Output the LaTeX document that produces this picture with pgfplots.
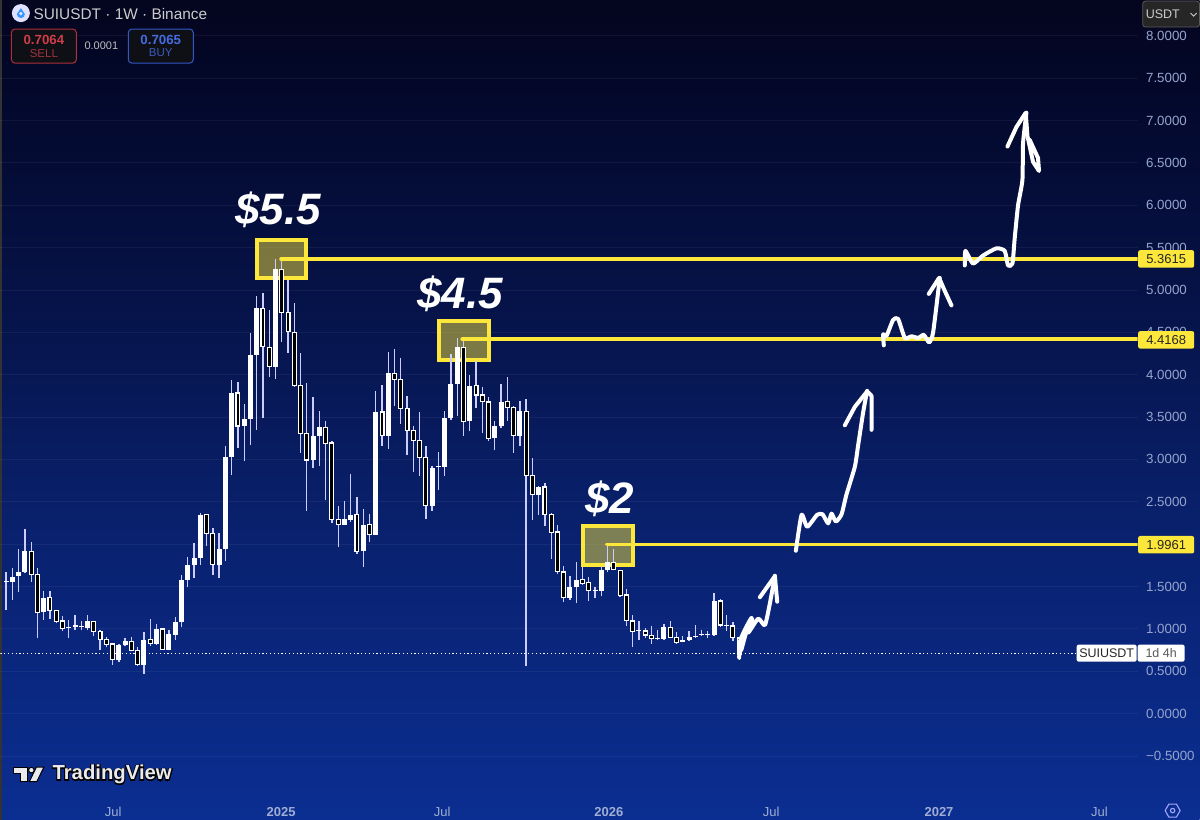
\documentclass[border=0pt]{standalone}
\usepackage{fontspec}
\setmainfont{Liberation Sans}
\newfontface\tvout{Liberation Sans Bold}[FakeBold=10]
\usepackage{pgfplots}
\usepackage{pgfplotstable}
\pgfplotsset{compat=1.18}
\definecolor{c0}{RGB}{11,46,146}
\definecolor{c1}{RGB}{9,33,110}
\definecolor{c2}{RGB}{6,18,70}
\definecolor{c3}{RGB}{3,8,42}
\definecolor{c4}{RGB}{4,5,30}
\definecolor{lvl}{RGB}{253,231,58}
\definecolor{axt}{RGB}{150,165,205}
\definecolor{sellc}{RGB}{205,62,72}
\definecolor{sellb}{RGB}{170,48,58}
\definecolor{buyc}{RGB}{68,108,225}
\definecolor{buyb}{RGB}{50,88,200}
\definecolor{boxf}{RGB}{15,15,22}
\pgfdeclareverticalshading{chartbg}{100bp}{color(0bp)=(c0); color(25bp)=(c0); color(42.5bp)=(c1); color(57.5bp)=(c2); color(70bp)=(c3); color(75bp)=(c4); color(100bp)=(c4)}
\pgfplotstableread{
i top bot hi lo
0 1.565 1.557 1.667 1.218
1 1.612 1.553 1.718 1.344
2 1.675 1.620 1.946 1.431
3 1.914 1.671 2.181 1.659
6 1.368 1.199 1.442 1.108
10 1.026 1.006 1.108 0.892
11 1.041 1.022 1.167 0.990
12 1.037 1.018 1.089 0.983
13 1.093 1.014 1.167 0.983
18 0.810 0.629 0.821 0.605
19 0.857 0.806 0.892 0.794
22 0.873 0.578 0.959 0.464
24 0.998 0.825 1.057 0.814
26 0.943 0.755 0.990 0.747
27 1.081 0.931 1.140 0.873
28 1.580 1.077 1.639 1.018
29 1.757 1.580 1.843 1.493
30 1.839 1.757 2.012 1.600
31 2.346 1.839 2.370 1.753
34 1.942 1.749 2.130 1.600
35 3.034 1.946 3.153 1.796
36 3.786 3.034 3.939 2.819
38 3.475 3.396 3.656 2.976
39 4.234 3.475 4.489 3.172
40 4.784 4.234 4.929 3.349
43 5.244 4.088 5.362 3.947
49 3.271 2.995 3.742 2.897
50 3.377 3.271 3.573 2.925
54 2.292 2.229 2.504 2.229
55 2.347 2.288 2.830 2.256
57 2.229 1.914 2.414 1.726
59 3.562 2.111 3.813 2.111
61 4.014 3.279 4.273 3.121
68 2.897 2.449 2.925 2.394
69 2.921 2.909 3.090 2.642
70 3.491 2.909 3.573 2.799
71 3.892 3.487 4.242 3.467
72 4.332 3.892 4.430 3.507
74 3.872 3.448 3.998 3.330
78 3.396 3.247 3.448 3.113
79 3.683 3.389 3.888 3.369
82 3.566 3.279 3.691 3.153
85 2.673 2.579 2.689 2.339
90 1.494 1.364 1.620 1.337
91 1.580 1.494 1.789 1.305
94 1.459 1.451 1.494 1.360
95 1.690 1.451 1.738 1.384
96 1.789 1.690 1.996 1.667
101 0.991 0.983 1.097 0.873
104 0.892 0.880 0.991 0.873
105 1.022 0.880 1.053 0.873
108 0.865 0.845 0.912 0.841
109 0.900 0.869 0.971 0.861
110 0.920 0.900 1.042 0.896
111 0.943 0.928 0.983 0.920
112 0.943 0.928 0.971 0.888
113 1.332 0.924 1.423 0.920
115 1.050 1.042 1.160 0.979
}\upw
\pgfplotstableread{
i top bot hi lo
4 1.910 1.643 2.024 1.552
5 1.639 1.199 1.718 0.892
7 1.368 1.218 1.442 1.120
8 1.214 1.089 1.226 1.069
9 1.093 1.002 1.155 0.979
14 1.089 0.971 1.093 0.912
15 0.971 0.880 0.983 0.755
16 0.876 0.821 0.904 0.782
17 0.821 0.637 0.833 0.578
20 0.853 0.747 0.900 0.735
21 0.747 0.578 0.782 0.566
23 0.869 0.825 1.116 0.802
25 0.998 0.762 1.014 0.755
32 2.346 2.130 2.358 1.973
33 2.122 1.757 2.189 1.639
37 3.782 3.396 3.908 3.133
41 4.784 4.332 4.961 3.487
42 4.324 4.096 4.764 3.978
44 5.244 4.737 5.354 4.391
45 4.733 4.509 5.118 4.253
46 4.501 3.872 4.843 3.860
47 3.868 3.310 4.253 3.074
48 3.302 2.995 3.900 2.394
51 3.377 3.192 3.448 2.516
52 3.192 2.288 3.212 2.249
53 2.288 2.233 2.453 1.966
56 2.347 1.914 2.555 1.887
58 2.229 2.115 2.355 2.021
60 3.558 3.279 3.876 3.153
62 4.014 3.947 4.300 3.632
63 3.939 3.605 4.202 3.420
64 3.601 3.345 3.750 3.054
65 3.337 3.227 3.389 2.846
66 3.223 3.023 3.558 2.807
67 3.023 2.453 3.160 2.296
73 4.324 3.448 4.417 3.271
75 3.872 3.762 4.167 3.605
76 3.758 3.680 3.852 3.310
77 3.676 3.251 3.735 3.212
80 3.680 3.609 3.974 3.459
81 3.609 3.279 3.632 3.074
83 3.562 2.815 3.711 0.566
84 2.811 2.583 3.015 2.280
86 2.673 2.355 2.720 2.209
87 2.351 2.142 2.366 1.824
88 2.142 1.679 2.229 1.651
89 1.671 1.372 1.738 1.313
92 1.580 1.541 1.730 1.517
93 1.549 1.451 1.612 1.325
97 1.785 1.698 1.942 1.690
98 1.687 1.399 1.698 1.376
99 1.399 1.097 1.474 1.030
100 1.093 0.971 1.167 0.786
102 0.975 0.928 1.010 0.896
103 0.924 0.885 1.030 0.825
106 1.018 0.904 1.089 0.896
107 0.896 0.845 0.963 0.825
114 1.329 1.046 1.352 1.018
116 1.034 0.900 1.077 0.853
117 0.892 0.704 0.900 0.637
}\dnw
\tikzset{levtag/.style={fill=lvl,rounded corners=2pt,minimum width=56pt,minimum height=17.5pt,inner sep=0pt,text=black!85,font=\fontsize{13}{15}\selectfont}}
\begin{document}
\begin{tikzpicture}[x=1pt,y=1pt]
\path[shading=chartbg] (0,0) rectangle (1200,820);
\fill[black!80!white] (0,0) rectangle (2,820);
\begin{axis}[
  at={(0pt,0pt)},anchor=south west,scale only axis,
  width=1138pt,height=820pt,
  xmin=-0.909,xmax=180.6,ymin=-1.25,ymax=8.42,
  axis line style={draw=none},
  major tick length=0pt,
  xtick={17.1,43.9,69.6,96.2,122.1,148.9,174.5},
  xticklabels={Jul,{\bfseries 2025},Jul,{\bfseries 2026},Jul,{\bfseries 2027},Jul},
  xticklabel style={font=\fontsize{13}{15}\selectfont,text=axt!90!white,yshift=8pt,anchor=center},
  ytick={-0.5,0,0.5,1,1.5,2,2.5,3,3.5,4,4.5,5,5.5,6,6.5,7,7.5,8},
  yticklabels={−0.5000,0.0000,0.5000,1.0000,1.5000,2.0000,2.5000,3.0000,3.5000,4.0000,4.5000,5.0000,5.5000,6.0000,6.5000,7.0000,7.5000,8.0000},
  yticklabel pos=right,
  yticklabel style={font=\fontsize{13.3}{15}\selectfont,text=axt,anchor=west,xshift=5pt},
  ymajorgrids,
  grid style={white,opacity=0.05,line width=0.8pt},
]
% yellow zones, under the candles
\addplot[fill=lvl,fill opacity=0.48,draw=lvl,line width=3.8pt] coordinates {(40.08,5.590) (47.89,5.590) (47.89,5.142) (40.08,5.142)} --cycle;
\addplot[fill=lvl,fill opacity=0.48,draw=lvl,line width=3.8pt] coordinates {(69.1,4.634) (77.1,4.634) (77.1,4.175) (69.1,4.175)} --cycle;
\addplot[fill=lvl,fill opacity=0.48,draw=lvl,line width=3.8pt] coordinates {(92.1,2.217) (100.05,2.217) (100.05,1.757) (92.1,1.757)} --cycle;
% last price
\addplot[white,line width=0.9pt,dash pattern=on 1.2pt off 2.6pt] coordinates {(-0.909,0.7064) (170.9,0.7064)};
% wicks
\addplot[white!80!blue,line width=1.3pt,quiver={u=0,v=\thisrow{hi}-\thisrow{lo}}] table[x=i,y=lo] {\upw};
\addplot[white!80!blue,line width=1.3pt,quiver={u=0,v=\thisrow{hi}-\thisrow{lo}}] table[x=i,y=lo] {\dnw};
% bodies
\addplot[white,line width=5pt,quiver={u=0,v=\thisrow{top}-\thisrow{bot}}] table[x=i,y=bot] {\upw};
\addplot[white,line width=5pt,quiver={u=0,v=\thisrow{top}-\thisrow{bot}+0.016}] table[x=i,y expr=\thisrow{bot}-0.008] {\dnw};
\addplot[black,line width=2.8pt,quiver={u=0,v=\thisrow{top}-\thisrow{bot}-0.012}] table[x=i,y expr=\thisrow{bot}+0.006] {\dnw};
% price levels
\addplot[lvl,line width=3.8pt,line cap=round] coordinates {(43.9,5.3615) (180.6,5.3615)};
\addplot[lvl,line width=3.8pt,line cap=round] coordinates {(72.8,4.4168) (180.6,4.4168)};
\addplot[lvl,line width=3.8pt,line cap=round] coordinates {(95.9,1.9961) (180.6,1.9961)};
\end{axis}
\begin{axis}[
  at={(0pt,0pt)},anchor=south west,scale only axis,
  width=1200pt,height=820pt,
  xmin=0,xmax=1200,ymin=0,ymax=820,y dir=reverse,
  hide axis,clip=false,
  hand/.style={white,line width=4pt,line cap=round,line join=round,smooth,tension=0.35,mark=none},
]
% hand-drawn strokes
\addplot[hand] coordinates {(739.3,658) (740,642) (745,630) (751.7,618) (748.3,633) (758.3,619) (765,625.5) (770,603.6) (775,576)};
\addplot[hand,line width=5pt] coordinates {(741,650) (746,632) (752,620)};
\addplot[hand,sharp plot] coordinates {(760,597.5) (775,576.4) (777.3,602)};
\addplot[hand] coordinates {(796,551) (801.7,515) (807.3,527) (817.3,515) (822.7,514.5) (828.3,523.6) (831.7,513.8) (836,521.8) (841.7,514.5) (846.7,494.5) (855,467) (858.3,445.5) (863.3,412.7) (867.3,391)};
\addplot[hand,sharp plot] coordinates {(845,425.5) (855,407) (867.3,391.6) (871.7,396) (871.7,430)};
\addplot[hand] coordinates {(884,345.5) (883.3,334.5) (886.7,336) (893.3,320) (898.3,319) (905,338) (911.7,336.4) (918.3,338) (924,335) (929.3,342.5) (933.3,332.7) (940,278)};
\addplot[hand,sharp plot] coordinates {(929,294) (939.3,278) (945,291) (951.7,305.5)};
\addplot[hand] coordinates {(965,265.5) (965.7,251) (973.3,263.6) (983.3,255.6) (996.7,248.4) (1005,251) (1008.3,265.5) (1012.7,263.6) (1015,238) (1018.3,205.5) (1022.7,180) (1023.3,143.6) (1026.7,112.7)};
\addplot[hand,sharp plot] coordinates {(1007.7,146.5) (1016.7,127) (1026,112.7) (1027.7,136) (1033.3,161.8) (1039.3,171) (1038.3,158) (1030,140)};
% big labels
\node[white,font=\fontsize{44}{50}\selectfont\bfseries\itshape] at (axis cs:278,210) {\$5.5};
\node[white,font=\fontsize{44}{50}\selectfont\bfseries\itshape] at (axis cs:460,294) {\$4.5};
\node[white,font=\fontsize{44}{50}\selectfont\bfseries\itshape] at (axis cs:610,499) {\$2};
% level tags
\node[levtag] at (axis cs:1166.5,259) {5.3615};
\node[levtag] at (axis cs:1166.5,340) {4.4168};
\node[levtag] at (axis cs:1166.5,545) {1.9961};
% last price tag
\fill[white,rounded corners=2pt] (axis cs:1077,645) rectangle (axis cs:1137,662);
\fill[white,rounded corners=2pt] (axis cs:1138,645) rectangle (axis cs:1185,662);
\node[text=black!85,font=\fontsize{12.5}{14}\selectfont] at (axis cs:1107,653.5) {SUIUSDT};
\node[text=black!65,font=\fontsize{12.5}{14}\selectfont] at (axis cs:1161.5,653.5) {1d 4h};
% header
\fill[white!88!blue] (axis cs:20.5,13) circle (9pt);
\fill[blue!50!cyan!80!white] (axis cs:20.5,8) -- (axis cs:24.5,14) arc (0:-180:4pt) -- cycle;
\fill[white!88!blue] (axis cs:20.5,13.5) circle (1.8pt);
\node[anchor=west,text=white!80!black,font=\fontsize{15.4}{18}\selectfont,inner sep=0pt] at (axis cs:33,13.5) {SUIUSDT · 1W · Binance};
\filldraw[fill=boxf,draw=sellb,rounded corners=3.5pt,line width=1pt] (axis cs:11,29) rectangle (axis cs:76,63);
\node[text=sellc,font=\fontsize{13.3}{15}\selectfont\bfseries] at (axis cs:43.5,40) {0.7064};
\node[text=sellc!80!black,font=\fontsize{11.5}{13}\selectfont] at (axis cs:43.5,53) {SELL};
\node[text=white!75!black,font=\fontsize{11}{13}\selectfont] at (axis cs:101,46) {0.0001};
\filldraw[fill=boxf,draw=buyb,rounded corners=3.5pt,line width=1pt] (axis cs:128,29) rectangle (axis cs:193,63);
\node[text=buyc,font=\fontsize{13.3}{15}\selectfont\bfseries] at (axis cs:160.5,40) {0.7065};
\node[text=buyc!85!black,font=\fontsize{11.5}{13}\selectfont] at (axis cs:160.5,53) {BUY};
\filldraw[fill=black!85,draw=white!35!black,rounded corners=3pt,line width=0.8pt] (axis cs:1143,1) rectangle (axis cs:1200,27);
\node[anchor=west,text=white!80!black,font=\fontsize{12.5}{14}\selectfont,inner sep=0pt] at (axis cs:1146,14) {USDT};
\draw[white!80!black,line width=1pt] (axis cs:1191,13) -- (axis cs:1194,16) -- (axis cs:1197,13);
% gear
\draw[white!65!blue,line width=1.1pt,line join=round] (axis cs:1165.5,811) -- (axis cs:1169.2,804.5) -- (axis cs:1176.8,804.5) -- (axis cs:1180.5,811) -- (axis cs:1176.8,817.5) -- (axis cs:1169.2,817.5) -- cycle;
\draw[white!65!blue,line width=1.1pt] (axis cs:1173,811) circle (2.2pt);
% logo
\node[anchor=west,text=black,font=\fontsize{20.3}{24}\selectfont\tvout,inner sep=0pt] at (axis cs:52,775) {TradingView};
\node[anchor=west,text=white!92!black,font=\fontsize{20.3}{24}\selectfont\bfseries,inner sep=0pt] at (axis cs:52,775) {TradingView};
\filldraw[fill=white!92!black,draw=black,line width=1pt] (axis cs:13.5,767.5) -- (axis cs:27,767.5) -- (axis cs:27,782) -- (axis cs:20.5,782) -- (axis cs:20.5,774) -- (axis cs:13.5,774) -- cycle;
\filldraw[fill=white!92!black,draw=black,line width=1pt] (axis cs:31,770.5) circle (2.8pt);
\filldraw[fill=white!92!black,draw=black,line width=1pt] (axis cs:36,767.5) -- (axis cs:43.5,767.5) -- (axis cs:36.5,782) -- (axis cs:29,782) -- cycle;
\end{axis}
\end{tikzpicture}
\end{document}
